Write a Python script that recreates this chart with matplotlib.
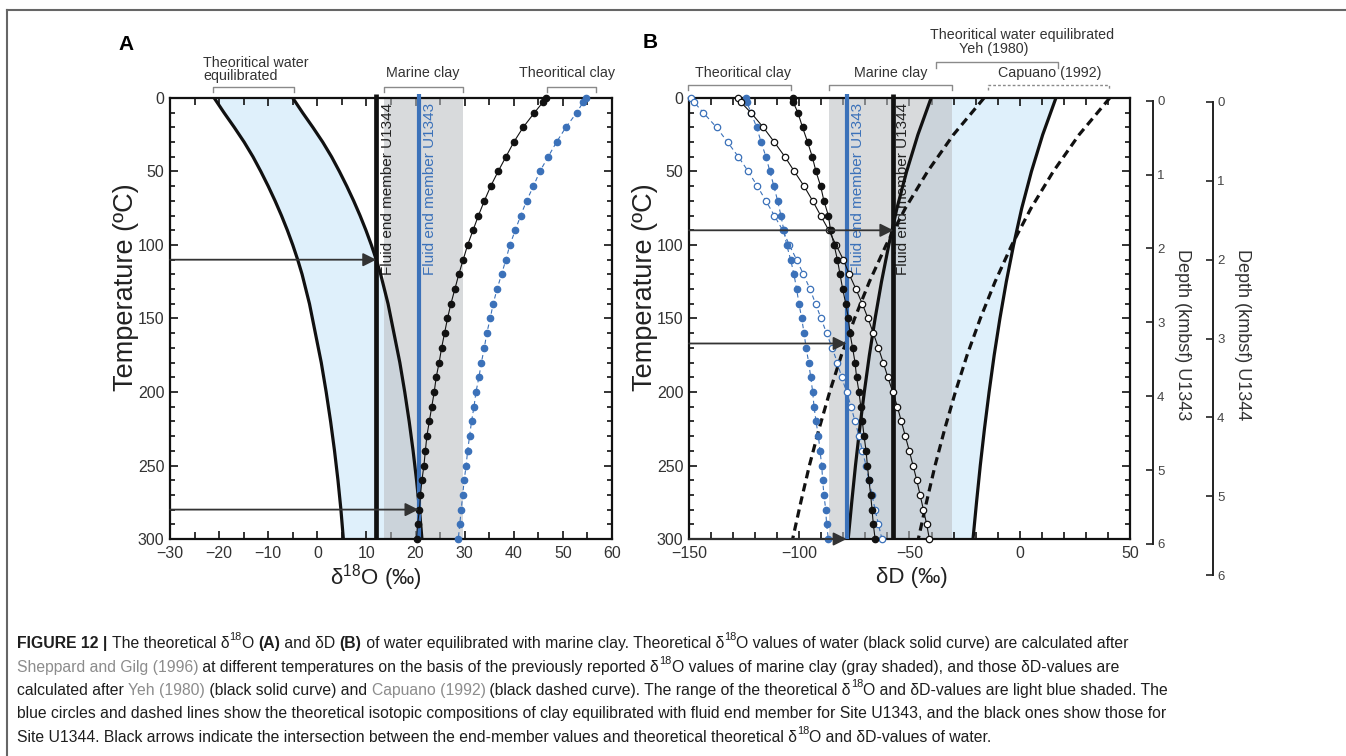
import matplotlib.pyplot as plt
from matplotlib.lines import Line2D
from matplotlib.ticker import MultipleLocator

plt.rcParams['font.family'] = ['Liberation Sans', 'DejaVu Sans']
plt.rcParams['mathtext.fontset'] = 'custom'
plt.rcParams['mathtext.rm'] = 'Liberation Sans'
plt.rcParams['mathtext.it'] = 'Liberation Sans:italic'
plt.rcParams['mathtext.bf'] = 'Liberation Sans:bold'

W, H = 1346, 756
BLUE = '#3b71b9'
LIGHTBLUE = '#dff0fb'
CLAY_GRAY = (0.739, 0.746, 0.760)
DARK = '#2b2b2b'

# temperatures (degC) of the theoretical clay points
temp_clay = [0, 3, 10, 20, 30, 40, 50, 60, 70, 80, 90, 100, 110, 120, 130, 140,
             150, 160, 170, 180, 190, 200, 210, 220, 230, 240, 250, 260, 270,
             280, 290, 300]

# ---- A : d18O ----
o18_clay_u1344 = [46.6, 45.9, 44.2, 41.9, 40.0, 38.4, 36.8, 35.3, 34.0, 32.8,
                  31.7, 30.6, 29.7, 28.8, 28.0, 27.2, 26.5, 25.9, 25.3, 24.8,
                  24.2, 23.8, 23.3, 22.8, 22.3, 22.0, 21.7, 21.3, 21.0, 20.8,
                  20.4, 20.2]
o18_clay_u1343 = [54.8, 54.1, 52.8, 50.6, 48.7, 47.0, 45.3, 44.0, 42.6, 41.4,
                  40.3, 39.2, 38.4, 37.5, 36.6, 35.8, 35.2, 34.5, 34.0, 33.4,
                  32.9, 32.3, 31.9, 31.4, 31.0, 30.6, 30.3, 29.9, 29.6, 29.3,
                  29.0, 28.7]
temp_water_a = [0, 10, 20, 30, 40, 50, 60, 70, 80, 90, 100, 110, 120, 140, 160,
                180, 200, 220, 240, 260, 280, 300]
o18_water_lo = [-21.0, -19.0, -16.9, -14.9, -13.1, -11.5, -10.0, -8.6, -7.3,
                -6.1, -5.0, -4.0, -3.1, -1.6, -0.4, 0.8, 1.8, 2.7, 3.5, 4.2,
                4.8, 5.3]
o18_water_hi = [-5.0, -3.0, -0.9, 1.1, 2.9, 4.5, 6.0, 7.4, 8.7, 9.9, 11.0,
                12.0, 12.9, 14.4, 15.6, 16.8, 17.8, 18.7, 19.5, 20.2, 20.8,
                21.3]
o18_marine_clay = (13.6, 29.6)
o18_fluid_u1344 = 12.0
o18_fluid_u1343 = 20.6
arrows_a = [(110, o18_fluid_u1344), (280, o18_fluid_u1343)]

# ---- B : dD ----
dD_clay_u1343_cap = [-149.2, -147.6, -143.5, -137.5, -132.5, -127.6, -123.1,
                     -119.0, -115.1, -111.3, -107.5, -104.5, -101.2, -98.1,
                     -95.1, -92.6, -90.1, -87.6, -85.1, -82.7, -80.8, -78.5,
                     -76.5, -74.7, -72.9, -71.4, -69.7, -68.4, -67.0, -65.6,
                     -64.1, -62.5]
dD_clay_u1343_yeh = [-124.3, -123.7, -121.9, -119.3, -117.3, -115.1, -113.3,
                     -111.5, -109.8, -108.3, -107.0, -105.7, -103.9, -102.4,
                     -101.2, -100.1, -98.9, -97.8, -96.9, -95.7, -94.8, -93.9,
                     -93.3, -92.4, -91.3, -90.6, -89.8, -89.4, -88.8, -88.0,
                     -87.6, -86.8]
dD_clay_u1344_cap = [-127.6, -126.4, -121.9, -116.3, -111.3, -106.5, -102.2,
                     -97.8, -93.9, -90.3, -86.6, -83.3, -80.0, -77.3, -74.3,
                     -71.4, -68.8, -66.4, -64.1, -61.9, -59.8, -57.6, -55.5,
                     -53.7, -51.9, -50.1, -48.4, -46.7, -45.2, -43.7, -42.2,
                     -41.0]
dD_clay_u1344_yeh = [-103.0, -102.7, -100.6, -98.5, -96.2, -94.1, -92.4, -90.3,
                     -88.8, -86.8, -85.8, -84.2, -82.7, -81.5, -80.3, -78.9,
                     -77.7, -77.0, -75.8, -74.7, -74.0, -72.9, -72.1, -71.4,
                     -70.6, -69.7, -69.1, -68.4, -67.6, -67.0, -66.4, -65.6]
temp_water_b = [0, 25, 50, 75, 100, 125, 150, 175, 200, 225, 250, 275, 300]
dD_yeh_lo = [-40.2, -46.2, -51.3, -55.7, -59.4, -62.7, -65.6, -68.2, -70.5,
             -72.6, -74.5, -76.2, -77.8]
dD_yeh_hi = [16.4, 10.4, 5.3, 0.9, -2.8, -6.1, -9.0, -11.6, -13.9, -16.0,
             -17.9, -19.6, -21.2]
dD_cap_lo = [-16.2, -30.1, -41.8, -51.9, -60.6, -68.2, -74.9, -80.9, -86.2,
             -91.0, -95.4, -99.3, -103.0]
dD_cap_hi = [40.8, 26.9, 15.2, 5.1, -3.6, -11.2, -17.9, -23.9, -29.2, -34.0,
             -38.4, -42.3, -46.0]
dD_marine_clay = (-86.5, -30.5)
dD_fluid_u1343 = -78.5
dD_fluid_u1344 = -57.3
arrows_b = [(90, dD_fluid_u1344), (167, dD_fluid_u1343), (300, dD_fluid_u1343)]

depth_km = [0, 1, 2, 3, 4, 5, 6]

# caption, split in styled pieces: n normal, b bold, g reference, s superscript
caption = [
    [('FIGURE 12 | ', 'b'), ('The theoretical δ', 'n'), ('18', 's'), ('O ', 'n'),
     ('(A)', 'b'), (' and δD ', 'n'), ('(B)', 'b'),
     (' of water equilibrated with marine clay. Theoretical δ', 'n'), ('18', 's'),
     ('O values of water (black solid curve) are calculated after', 'n')],
    [('Sheppard and Gilg (1996)', 'g'),
     (' at different temperatures on the basis of the previously reported δ', 'n'),
     ('18', 's'), ('O values of marine clay (gray shaded), and those δD-values are', 'n')],
    [('calculated after ', 'n'), ('Yeh (1980)', 'g'), (' (black solid curve) and ', 'n'),
     ('Capuano (1992)', 'g'),
     (' (black dashed curve). The range of the theoretical δ', 'n'), ('18', 's'),
     ('O and δD-values are light blue shaded. The', 'n')],
    [('blue circles and dashed lines show the theoretical isotopic compositions of '
      'clay equilibrated with fluid end member for Site U1343, and the black ones '
      'show those for', 'n')],
    [('Site U1344. Black arrows indicate the intersection between the end-member '
      'values and theoretical theoretical δ', 'n'), ('18', 's'),
     ('O and δD-values of water.', 'n')],
]


def box(l, t, r, b):
    return [l / W, 1 - b / H, (r - l) / W, (b - t) / H]


def style(ax, xlim, xmaj, xmin):
    ax.set_xlim(*xlim)
    ax.set_ylim(300, 0)
    ax.xaxis.set_major_locator(MultipleLocator(xmaj))
    ax.xaxis.set_minor_locator(MultipleLocator(xmin))
    ax.yaxis.set_major_locator(MultipleLocator(50))
    ax.yaxis.set_minor_locator(MultipleLocator(10))
    ax.tick_params(which='both', direction='in', top=True, right=True,
                   width=1.2, color='#111', labelcolor='#333', labelsize=11.5)
    ax.tick_params(which='major', length=5.5)
    ax.tick_params(which='minor', length=3.5)
    ax.tick_params(axis='x', which='minor', length=5)
    ax.tick_params(axis='x', pad=5)
    ax.tick_params(axis='y', pad=4)
    for s in ax.spines.values():
        s.set_linewidth(1.6)
        s.set_color('#111')


def bracket(ax, x0, x1, ytop, ybot, ls='-'):
    tr = ax.get_xaxis_transform()
    y0 = (539 - ytop) / 441
    y1 = (539 - ybot) / 441
    ax.plot([x0, x0, x1, x1], [y1, y0, y0, y1], transform=tr, color='#8a8a8a',
            lw=1.0, ls=ls, clip_on=False, dashes=(2, 1.5) if ls == '--' else (None, None))


def arrow(ax, x0, x1, t):
    ax.annotate('', xy=(x1, t), xytext=(x0, t), annotation_clip=False,
                arrowprops=dict(arrowstyle='-|>,head_length=0.8,head_width=0.4',
                                color='#333', lw=1.3, shrinkA=0, shrinkB=0,
                                mutation_scale=10), zorder=8)


def clay_series(ax, x, filled, color, dashed):
    ax.plot(x, temp_clay, color=color, lw=0.8,
            ls=(0, (4, 3)) if dashed else '-',
            marker='o', ms=4.6, mew=0.9, mec=color,
            mfc=color if filled else 'white', zorder=6, clip_on=False)


fig = plt.figure(figsize=(W / 100, H / 100), dpi=100)

# ---------------- panel A ----------------
axa = fig.add_axes(box(170, 98, 612, 539))
style(axa, (-30, 60), 10, 5)
axa.fill_betweenx(temp_water_a, o18_water_lo, o18_water_hi, color=LIGHTBLUE,
                  lw=0, zorder=1)
axa.axvspan(*o18_marine_clay, color=CLAY_GRAY, alpha=0.57, lw=0, zorder=2)
axa.plot(o18_water_lo, temp_water_a, color='#111', lw=2.3, zorder=4)
axa.plot(o18_water_hi, temp_water_a, color='#111', lw=2.3, zorder=4)
axa.plot([o18_fluid_u1344] * 2, [-2.5, 300], color='#111', lw=3.4,
         solid_capstyle='butt', clip_on=False, zorder=5)
axa.plot([o18_fluid_u1343] * 2, [-2.5, 300], color=BLUE, lw=3.0,
         solid_capstyle='butt', clip_on=False, zorder=5)
clay_series(axa, o18_clay_u1344, True, '#111', False)
clay_series(axa, o18_clay_u1343, True, BLUE, True)
for t, x in arrows_a:
    arrow(axa, -30, x, t)
axa.text(14.4, 3.4, 'Fluid end member U1344', rotation=90, ha='center',
         va='top', fontsize=11, color='#222', zorder=3)
axa.text(22.9, 3.4, 'Fluid end member U1343', rotation=90, ha='center',
         va='top', fontsize=11, color=BLUE, zorder=3)
bracket(axa, -21.2, -4.8, 87, 92)
bracket(axa, *o18_marine_clay, 87, 92)
bracket(axa, 46.8, 56.7, 87, 92)

# ---------------- panel B ----------------
axb = fig.add_axes(box(689, 98, 1130, 539))
style(axb, (-150, 50), 50, 10)
axb.fill_betweenx(temp_water_b, dD_yeh_lo, dD_yeh_hi, color=LIGHTBLUE, lw=0,
                  zorder=1)
axb.axvspan(*dD_marine_clay, color=CLAY_GRAY, alpha=0.57, lw=0, zorder=2)
axb.plot([dD_fluid_u1343] * 2, [-2.5, 300], color=BLUE, lw=3.0,
         solid_capstyle='butt', clip_on=False, zorder=5)
axb.plot([dD_fluid_u1344] * 2, [-2.5, 300], color='#111', lw=3.4,
         solid_capstyle='butt', clip_on=False, zorder=5)
axb.text(-73.4, 3.4, 'Fluid end member U1343', rotation=90, ha='center',
         va='top', fontsize=11, color=BLUE, zorder=3)
axb.text(-52.9, 3.4, 'Fluid end member U1344', rotation=90, ha='center',
         va='top', fontsize=11, color='#222', zorder=3)
for xs in (dD_yeh_lo, dD_yeh_hi):
    axb.plot(xs, temp_water_b, color='#111', lw=2.3, zorder=4)
for xs in (dD_cap_lo, dD_cap_hi):
    axb.plot(xs, temp_water_b, color='#111', lw=2.3, dashes=(2.6, 1.6),
             zorder=4)
clay_series(axb, dD_clay_u1343_cap, False, BLUE, True)
clay_series(axb, dD_clay_u1343_yeh, True, BLUE, True)
clay_series(axb, dD_clay_u1344_cap, False, '#111', False)
clay_series(axb, dD_clay_u1344_yeh, True, '#111', False)
for t, x in arrows_b:
    arrow(axb, -150, x, t)
bracket(axb, -150.5, -103.7, 85, 90)
bracket(axb, *dD_marine_clay, 85, 90)
bracket(axb, -38.1, 17.5, 62, 68)
bracket(axb, -14.5, 40.6, 85, 90, ls='--')

# ---------------- depth scales ----------------
for right, top, bottom, lab_x, name in [(1153, 100.7, 544, 1182, 'U1343'),
                                        (1213, 102, 575, 1242, 'U1344')]:
    axd = fig.add_axes(box(right - 20, top, right, bottom))
    axd.set_ylim(6, 0)
    axd.set_yticks(depth_km)
    axd.yaxis.tick_right()
    axd.set_xticks([])
    axd.patch.set_visible(False)
    for side in ('top', 'left', 'bottom'):
        axd.spines[side].set_visible(False)
    axd.spines['right'].set_linewidth(1.4)
    axd.spines['right'].set_color('#222')
    axd.tick_params(axis='y', direction='in', length=5, width=1.2,
                    color='#222', labelcolor='#444', labelsize=9.5, pad=3)
    fig.text(lab_x / W, 1 - 335 / H, 'Depth (kmbsf) ' + name, rotation=270,
             ha='center', va='center', fontsize=13, color='#333')

# axis titles and panel letters
for x in (126, 645):
    fig.text(x / W, 1 - 287 / H, 'Temperature (ºC)', rotation=90, ha='center',
             va='center', fontsize=19.5, color='#222')
fig.text(376 / W, 1 - 578 / H, 'δ$^{18}$O (‰)', ha='center', va='center',
         fontsize=16, color='#222')
fig.text(912 / W, 1 - 578 / H, 'δD (‰)', ha='center', va='center',
         fontsize=16, color='#222')
fig.text(126 / W, 1 - 44 / H, 'A', ha='center', va='center', fontsize=15,
         fontweight='bold')
fig.text(650 / W, 1 - 42 / H, 'B', ha='center', va='center', fontsize=15,
         fontweight='bold')

hdr = dict(ha='center', va='center', fontsize=10.3, color='#333')
fig.text(203 / W, 1 - 69.5 / H, 'Theoritical water\nequilibrated', ha='left',
         va='center', fontsize=10.3, color='#333', linespacing=0.95)
fig.text(422.7 / W, 1 - 73.5 / H, 'Marine clay', **hdr)
fig.text(566.6 / W, 1 - 73 / H, 'Theoritical clay', **hdr)
fig.text(742.7 / W, 1 - 73.3 / H, 'Theoritical clay', **hdr)
fig.text(890.7 / W, 1 - 73 / H, 'Marine clay', **hdr)
fig.text(1021.7 / W, 1 - 35 / H, 'Theoritical water equilibrated', **hdr)
fig.text(993.3 / W, 1 - 49.3 / H, 'Yeh (1980)', **hdr)
fig.text(1050 / W, 1 - 73.3 / H, 'Capuano (1992)', **hdr)

# ---------------- caption ----------------
renderer = fig.canvas.get_renderer()


def piece_props(kind, size):
    p = dict(fontsize=size, color='#1e1e1e')
    if kind == 'b':
        p['fontweight'] = 'bold'
    elif kind == 'g':
        p['color'] = '#8c8c8c'
    elif kind == 's':
        p['fontsize'] = size * 0.7
    return p


def text_width(s, props):
    a = fig.text(0, 0, 'x' + s + 'x', **props)
    b = fig.text(0, 0, 'xx', **props)
    w = a.get_window_extent(renderer).width - b.get_window_extent(renderer).width
    a.remove()
    b.remove()
    return w


def line_width(pieces, size):
    return sum(text_width(s, piece_props(k, size)) for s, k in pieces)


cap_size = 10 * (1168 - 17) / line_width(caption[3], 10)
baselines = [648, 672, 695, 718, 742]
for pieces, base in zip(caption, baselines):
    x = 17
    for s, k in pieces:
        props = piece_props(k, cap_size)
        y = base - (cap_size * 0.5 * 100 / 72 if k == 's' else 0)
        fig.text(x / W, 1 - y / H, s, ha='left', va='baseline', **props)
        x += text_width(s, props)

# page frame
fig.add_artist(Line2D([7 / W, 7 / W], [0, 1 - 10 / H], transform=fig.transFigure,
                      color='#666', lw=1.5))
fig.add_artist(Line2D([7 / W, 1], [1 - 10 / H, 1 - 10 / H],
                      transform=fig.transFigure, color='#666', lw=1.5))

fig.savefig('out.png', dpi=100)
